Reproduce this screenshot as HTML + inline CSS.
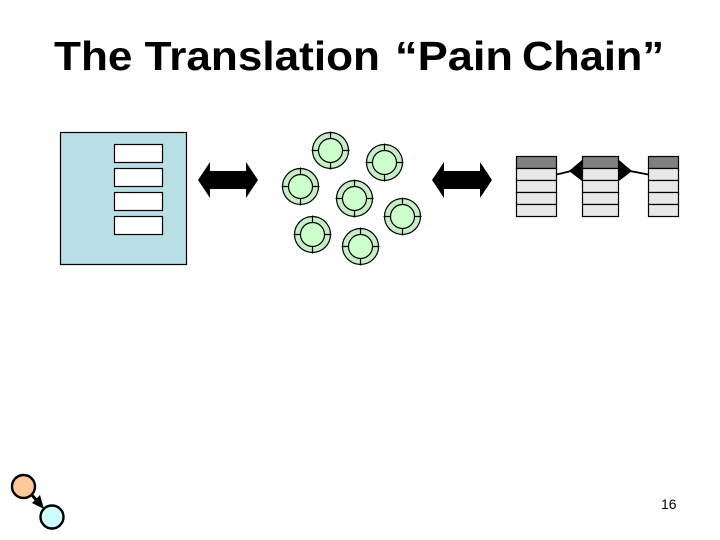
<!DOCTYPE html>
<html>
<head>
<meta charset="utf-8">
<style>
html,body{margin:0;padding:0;background:#fff;}
svg{display:block;}
text{font-family:"Liberation Sans",Arial,sans-serif;fill:#000;}
</style>
</head>
<body>
<svg width="720" height="540" viewBox="0 0 720 540" xmlns="http://www.w3.org/2000/svg">
<defs>
<g id="c">
<circle r="18" fill="#c6efc6" stroke="#000" stroke-width="1.2"/>
<circle r="12" fill="#ccffcc" stroke="#000" stroke-width="1.2"/>
<path d="M0-19V-12M0 12V19M-19 0H-12M12 0H19" stroke="#000" stroke-width="1.2" fill="none"/>
</g>
</defs>
<text x="54" y="70" font-size="41" font-weight="bold" textLength="326" lengthAdjust="spacingAndGlyphs">The Translation</text>
<text x="395" y="70" font-size="41" font-weight="bold" textLength="118" lengthAdjust="spacingAndGlyphs">“Pain</text>
<text x="522" y="70" font-size="41" font-weight="bold" textLength="142" lengthAdjust="spacingAndGlyphs">Chain”</text>

<rect x="60.5" y="132.5" width="126" height="132" fill="#b7dfe5" stroke="#000" stroke-width="1.2"/>
<rect x="114.5" y="144.5" width="48" height="18" fill="#fff" stroke="#000" stroke-width="1.2"/>
<rect x="114.5" y="168.5" width="48" height="18" fill="#fff" stroke="#000" stroke-width="1.2"/>
<rect x="114.5" y="192.5" width="48" height="18" fill="#fff" stroke="#000" stroke-width="1.2"/>
<rect x="114.5" y="216.5" width="48" height="18" fill="#fff" stroke="#000" stroke-width="1.2"/>

<polygon points="198,180 210,162 210,171 246,171 246,162 258,180 246,198 246,189 210,189 210,198" fill="#000"/>
<polygon points="432,180 444,162 444,171 480,171 480,162 492,180 480,198 480,189 444,189 444,198" fill="#000"/>

<use href="#c" x="330.5" y="150.5"/>
<use href="#c" x="384.5" y="162.5"/>
<use href="#c" x="300.5" y="186.5"/>
<use href="#c" x="354.5" y="198.5"/>
<use href="#c" x="402.5" y="216.5"/>
<use href="#c" x="312.5" y="234.5"/>
<use href="#c" x="360.5" y="246.5"/>

<g stroke="#000" stroke-width="1.2">
<rect x="516.5" y="156.5" width="40" height="12" fill="#808080"/>
<rect x="516.5" y="168.5" width="40" height="12" fill="#e8e8e8"/>
<rect x="516.5" y="180.5" width="40" height="12" fill="#e8e8e8"/>
<rect x="516.5" y="192.5" width="40" height="12" fill="#e8e8e8"/>
<rect x="516.5" y="204.5" width="40" height="12" fill="#e8e8e8"/>

<rect x="582.5" y="156.5" width="36" height="12" fill="#808080"/>
<rect x="582.5" y="168.5" width="36" height="12" fill="#e8e8e8"/>
<rect x="582.5" y="180.5" width="36" height="12" fill="#e8e8e8"/>
<rect x="582.5" y="192.5" width="36" height="12" fill="#e8e8e8"/>
<rect x="582.5" y="204.5" width="36" height="12" fill="#e8e8e8"/>

<rect x="648.5" y="156.5" width="30" height="12" fill="#808080"/>
<rect x="648.5" y="168.5" width="30" height="12" fill="#e8e8e8"/>
<rect x="648.5" y="180.5" width="30" height="12" fill="#e8e8e8"/>
<rect x="648.5" y="192.5" width="30" height="12" fill="#e8e8e8"/>
<rect x="648.5" y="204.5" width="30" height="12" fill="#e8e8e8"/>
</g>
<path d="M557 174.5L571 171M630 171L648 174.5" stroke="#000" stroke-width="1.8" fill="none"/>
<polygon points="582,160 569,171 582,181" fill="#000"/>
<polygon points="619,160 632,171 619,181" fill="#000"/>

<path d="M30 493L39 503" stroke="#000" stroke-width="3" fill="none"/>
<polygon points="44,509 32,503 40,495" fill="#000"/>
<circle cx="23.5" cy="486.5" r="11.5" fill="#fdc99b" stroke="#000" stroke-width="2.4"/>
<circle cx="52" cy="517" r="11.5" fill="#ccffff" stroke="#000" stroke-width="2.4"/>

<text x="661" y="509" font-size="14">16</text>
</svg>
</body>
</html>
